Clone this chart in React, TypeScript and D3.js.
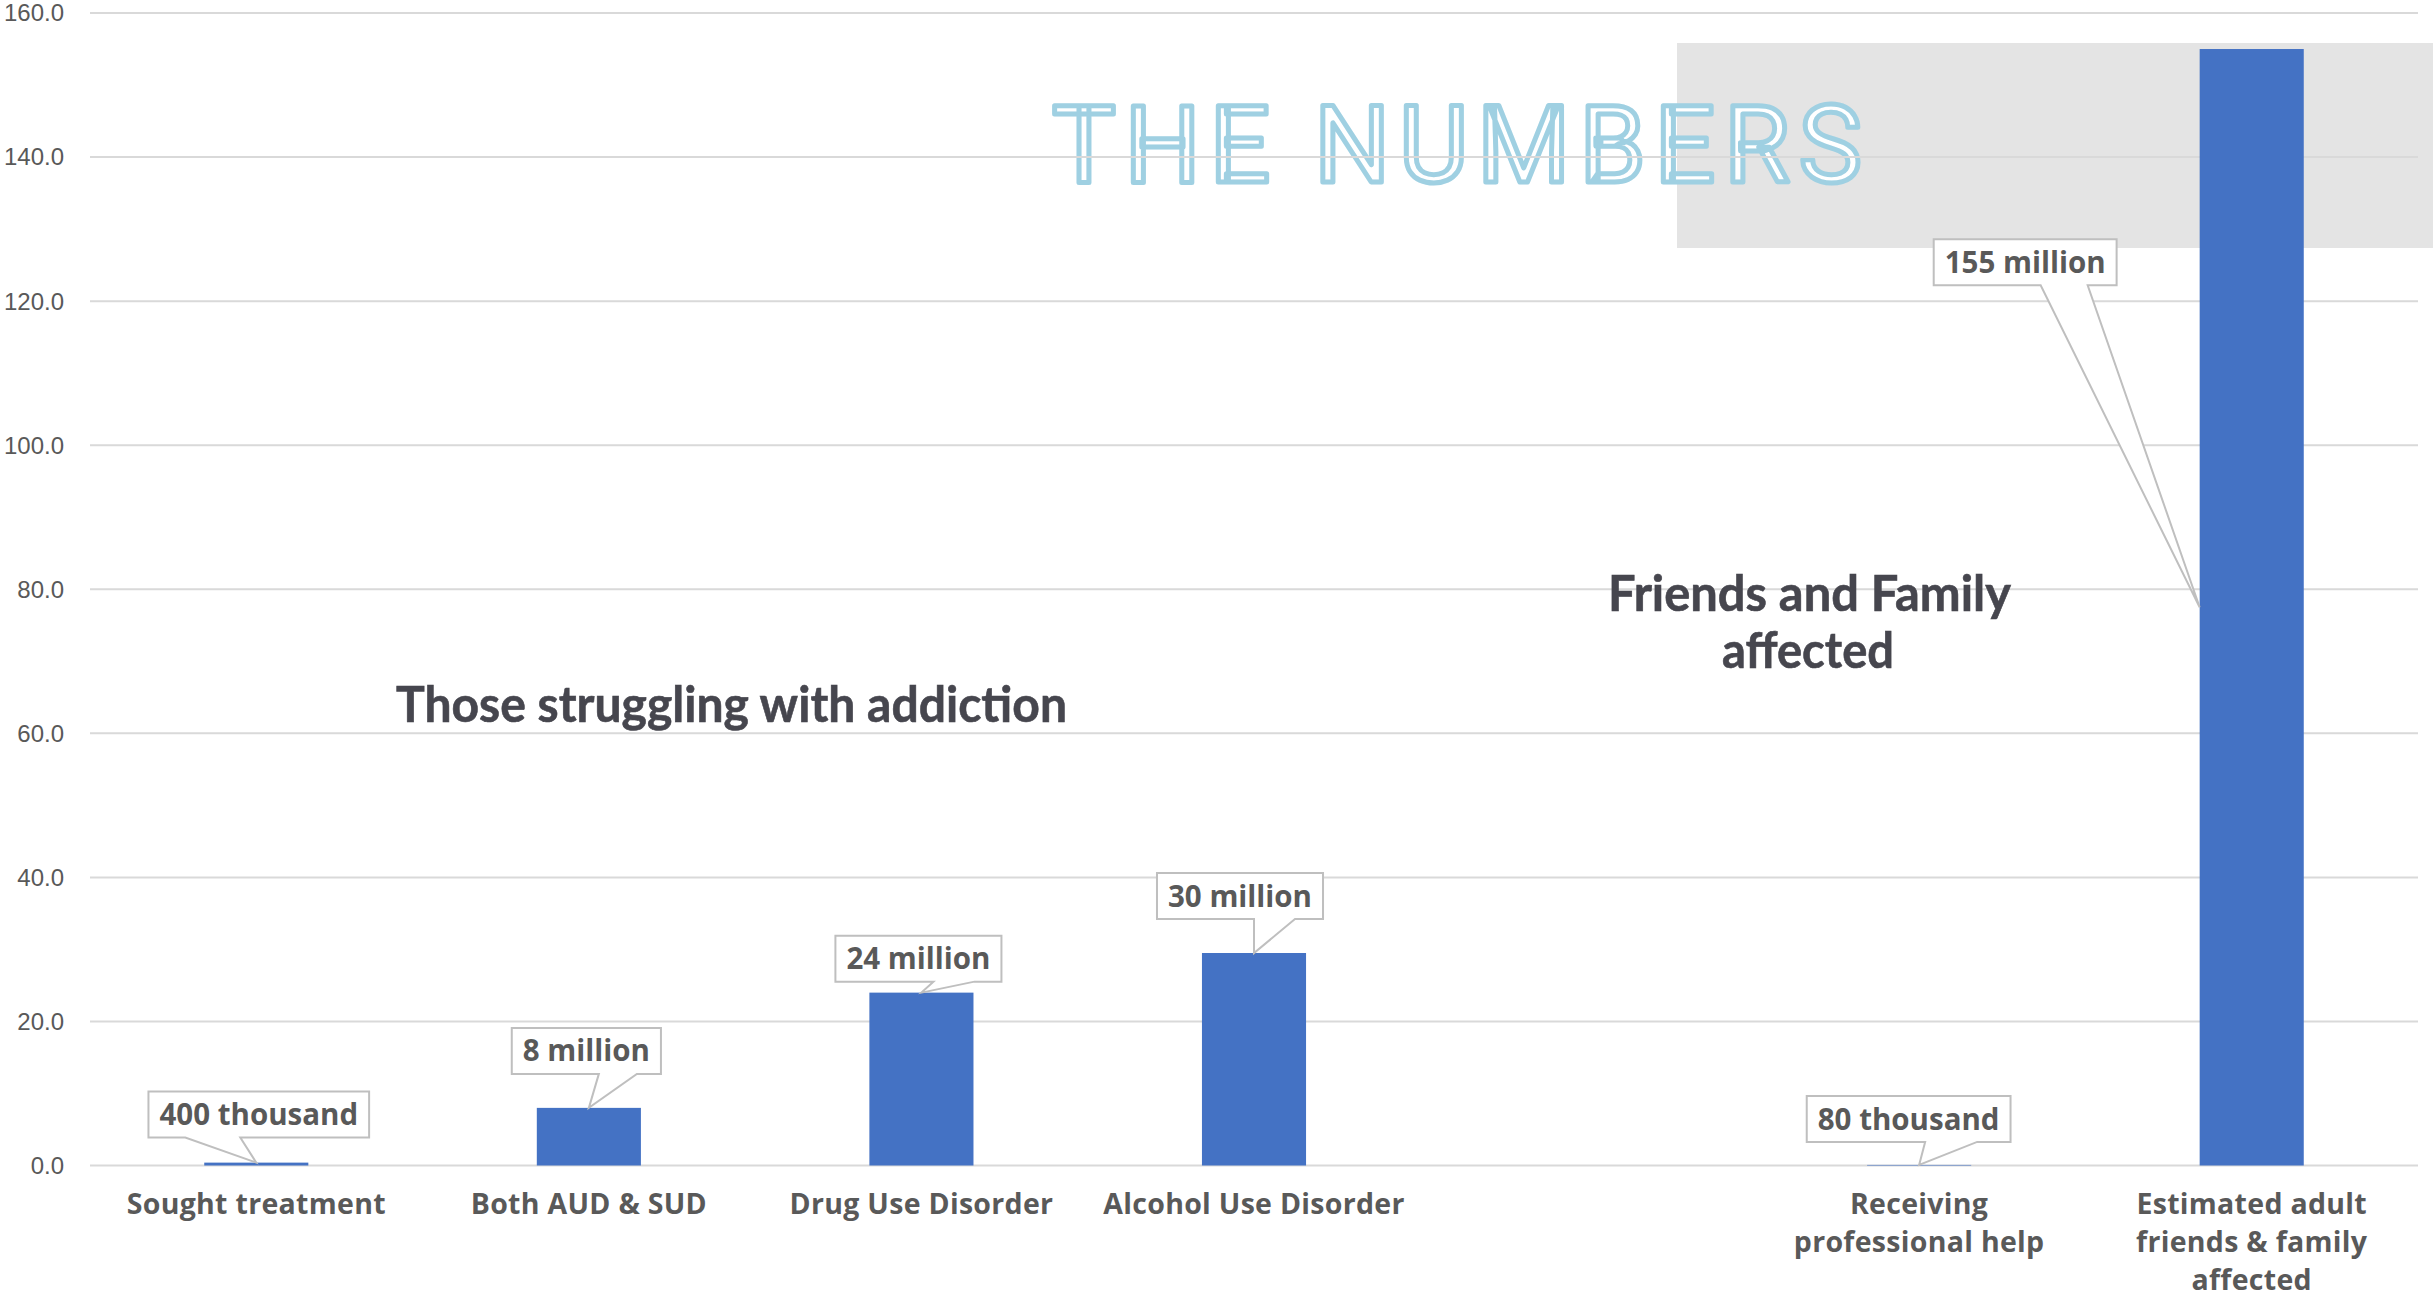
import React, { useEffect, useRef } from "react";
import * as d3 from "d3";

const categories = [
  "Sought treatment",
  "Both AUD & SUD",
  "Drug Use Disorder",
  "Alcohol Use Disorder",
  "",
  "Receiving\nprofessional help",
  "Estimated adult\nfriends & family\naffected",
];
const values: (number | null)[] = [0.4, 8, 24, 29.5, null, 0.08, 155];
const valueLabels = ["400 thousand", "8 million", "24 million", "30 million", "", "80 thousand", "155 million"];
const yTicks = [0, 20, 40, 60, 80, 100, 120, 140, 160];
const titleText = "THE NUMBERS";
const groupLeft = "Those struggling with addiction";
const groupRight = ["Friends and Family", "affected"];

// callout layout (box centre offset from tip, gap above tip, wedge base offsets)
const calloutLayout = [
  { dx: 2.5, gap: 25, b0: -71, b1: -16, side: false },
  { dx: -2.5, gap: 34, b0: 10, b1: 48, side: false },
  { dx: -3, gap: 11, b0: 12, b1: 53, side: false },
  { dx: -14, gap: 34, b0: 0, b1: 41, side: false },
  null,
  { dx: -10.5, gap: 23, b0: 6, b1: 58, side: false },
  { dx: -174.5, gap: 322, b0: -159, b1: -112, side: true },
];

const W = 2433;
const H = 1307;
const M = { left: 90, right: 2418, top: 13, bottom: 1165.5 };
const BAR = "#4472c4";
const GRID = "#d9d9d9";
const TXT = "#595959";
const DARK = "#46464e";

export default function App() {
  const ref = useRef<SVGSVGElement | null>(null);

  useEffect(() => {
    const svg = d3.select(ref.current!);
    svg.selectAll("*").remove();

    const x = d3
      .scaleBand<number>()
      .domain(categories.map((_, i) => i))
      .range([M.left, M.right])
      .paddingInner(0.687)
      .paddingOuter(0.3435);
    const y = d3.scaleLinear().domain([0, 160]).range([M.bottom, M.top]);

    svg.append("rect").attr("width", W).attr("height", H).attr("fill", "#ffffff");

    // gray title panel
    svg.append("rect").attr("x", 1677).attr("y", 43).attr("width", W - 1677).attr("height", 205).attr("fill", "#e4e4e4");

    // title
    svg
      .append("text")
      .attr("x", 1052)
      .attr("y", 182)
      .attr("font-family", "Roboto, 'Noto Sans', sans-serif")
      .attr("font-size", 107)
      .attr("font-weight", 400)
      .attr("textLength", 810)
      .attr("lengthAdjust", "spacing")
      .attr("fill", "#ffffff")
      .attr("stroke", "#9fd0e2")
      .attr("stroke-width", 5)
      .attr("stroke-linejoin", "round")
      .text(titleText);

    // gridlines
    svg
      .append("g")
      .selectAll("line")
      .data(yTicks)
      .join("line")
      .attr("x1", M.left)
      .attr("x2", M.right)
      .attr("y1", (d) => y(d))
      .attr("y2", (d) => y(d))
      .attr("stroke", GRID)
      .attr("stroke-width", 2);

    // y tick labels
    svg
      .append("g")
      .selectAll("text")
      .data(yTicks)
      .join("text")
      .attr("x", 64)
      .attr("y", (d) => y(d))
      .attr("dy", "0.35em")
      .attr("text-anchor", "end")
      .attr("font-family", "'Liberation Sans', Arial, sans-serif")
      .attr("font-size", 24)
      .attr("fill", TXT)
      .text((d) => d3.format(".1f")(d));

    // bars
    const barData = values.map((v, i) => ({ v, i })).filter((d) => d.v !== null) as { v: number; i: number }[];
    svg
      .append("g")
      .selectAll("rect")
      .data(barData)
      .join("rect")
      .attr("x", (d) => x(d.i)!)
      .attr("width", x.bandwidth())
      .attr("y", (d) => y(d.v))
      .attr("height", (d) => y(0) - y(d.v))
      .attr("fill", BAR);

    // category labels
    const catG = svg.append("g");
    categories.forEach((c, i) => {
      if (!c) return;
      const t = catG
        .append("text")
        .attr("text-anchor", "middle")
        .attr("font-family", "'Open Sans', 'Noto Sans', sans-serif")
        .attr("font-weight", 700)
        .attr("font-size", 28.5)
        .attr("letter-spacing", 0.3)
        .attr("fill", TXT);
      c.split("\n").forEach((line, k) => {
        t.append("tspan")
          .attr("x", x(i)! + x.bandwidth() / 2)
          .attr("y", 1214 + k * 38)
          .text(line);
      });
    });

    // callouts
    const cg = svg.append("g");
    barData.forEach((d) => {
      const lay = calloutLayout[d.i];
      if (!lay) return;
      const label = valueLabels[d.i];
      const tipX = lay.side ? x(d.i)! : x(d.i)! + x.bandwidth() / 2;
      const tipY = lay.side ? y(d.v / 2) : y(d.v);
      const g = cg.append("g");
      const path = g.append("path");
      const text = g
        .append("text")
        .attr("text-anchor", "middle")
        .attr("font-family", "'Open Sans', 'Noto Sans', sans-serif")
        .attr("font-weight", 700)
        .attr("font-size", 29.5)
        .attr("fill", TXT)
        .text(label);
      const tw = (text.node() as SVGTextElement).getComputedTextLength();
      const bw = tw + 22;
      const bh = 46;
      const cx = tipX + lay.dx;
      const bottom = tipY - lay.gap;
      const top = bottom - bh;
      const left = cx - bw / 2;
      const right = cx + bw / 2;
      text.attr("x", cx).attr("y", top + bh / 2).attr("dy", "0.36em");
      const p = d3.path();
      p.moveTo(left, top);
      p.lineTo(right, top);
      p.lineTo(right, bottom);
      p.lineTo(tipX + lay.b1, bottom);
      p.lineTo(tipX, tipY);
      p.lineTo(tipX + lay.b0, bottom);
      p.lineTo(left, bottom);
      p.closePath();
      path.attr("d", p.toString()).attr("fill", "#ffffff").attr("stroke", "#bfbfbf").attr("stroke-width", 2);
    });

    // group annotations
    const ann = (txt: string, cx: number, by: number, len: number) =>
      svg
        .append("text")
        .attr("x", cx)
        .attr("y", by)
        .attr("text-anchor", "middle")
        .attr("font-family", "Lato, 'Open Sans', sans-serif")
        .attr("font-weight", 700)
        .attr("font-size", 50)
        .attr("fill", DARK)
        .attr("stroke", DARK)
        .attr("stroke-width", 0.6)
        .attr("textLength", len)
        .attr("lengthAdjust", "spacingAndGlyphs")
        .text(txt);
    ann(groupLeft, 731.5, 722, 671);
    ann(groupRight[0], 1809.5, 611, 403);
    ann(groupRight[1], 1808, 668, 172);
  }, []);

  return (
    <svg
      ref={ref}
      width={W}
      height={H}
      viewBox={`0 0 ${W} ${H}`}
      style={{ position: "absolute", left: 0, top: 0, display: "block" }}
    />
  );
}
